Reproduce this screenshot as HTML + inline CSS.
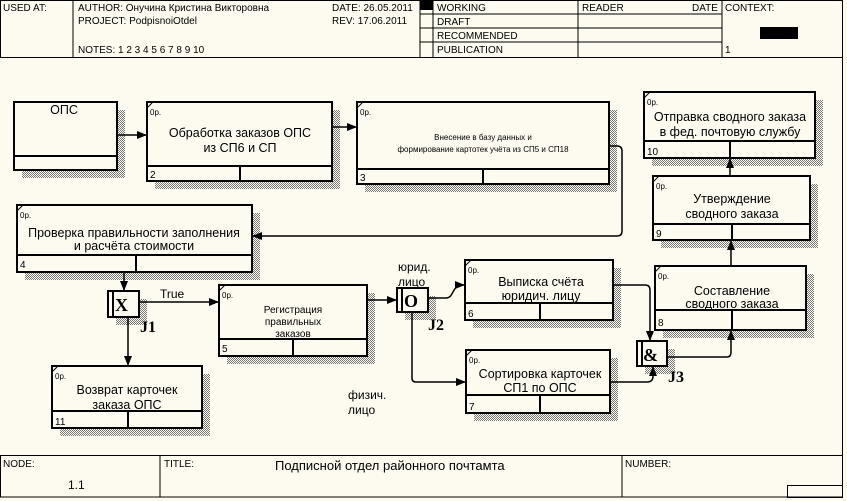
<!DOCTYPE html>
<html><head><meta charset="utf-8"><style>
html,body{margin:0;padding:0;background:#fdfaf0}
svg{display:block}
text{font-family:"Liberation Sans",sans-serif;fill:#000}
text.s{font-family:"Liberation Serif",serif;font-weight:bold}
</style></head><body>
<svg width="847" height="501" viewBox="0 0 847 501" xmlns="http://www.w3.org/2000/svg">
<defs>
<pattern id="h" width="2" height="2" patternUnits="userSpaceOnUse"><rect width="2" height="2" fill="#fdfaf0"/><rect width="1" height="1" fill="#777"/><rect x="1" y="1" width="1" height="1" fill="#777"/></pattern>
<marker id="a" markerWidth="10" markerHeight="8" refX="9" refY="4" orient="auto" markerUnits="userSpaceOnUse"><path d="M0,0 L10,4 L0,8z" fill="#000"/></marker>
</defs>
<rect x="0" y="0" width="847" height="501" fill="#fdfaf0"/>
<g stroke="#000" stroke-width="1" fill="none">
<rect x="0.5" y="0.5" width="842" height="57"/>
<line x1="73" y1="0" x2="73" y2="57"/>
<line x1="420" y1="0" x2="420" y2="57"/>
<line x1="433" y1="0" x2="433" y2="57"/>
<line x1="578" y1="0" x2="578" y2="57"/>
<line x1="722" y1="0" x2="722" y2="57"/>
<line x1="420" y1="14" x2="722" y2="14"/>
<line x1="420" y1="28" x2="722" y2="28"/>
<line x1="420" y1="42" x2="722" y2="42"/>
<line x1="842.5" y1="57" x2="842.5" y2="455"/>
<rect x="0.5" y="455.5" width="842" height="41.5"/>
<line x1="160" y1="455" x2="160" y2="497"/>
<line x1="622" y1="455" x2="622" y2="497"/>
<rect x="787.5" y="485.5" width="55" height="12"/>
</g>
<rect x="420" y="0" width="13" height="10" fill="#000"/>
<rect x="760" y="27" width="38" height="12" fill="#000"/>
<g font-size="10">
<text x="3" y="11">USED AT:</text>
<text x="78" y="11">AUTHOR:  Онучина Кристина Викторовна</text>
<text x="78" y="24">PROJECT:  PodpisnoiOtdel</text>
<text x="78" y="53">NOTES:  1  2  3  4  5  6  7  8  9  10</text>
<text x="332" y="11">DATE:  26.05.2011</text>
<text x="332" y="24">REV:    17.06.2011</text>
<text x="437" y="11">WORKING</text>
<text x="437" y="25">DRAFT</text>
<text x="437" y="39">RECOMMENDED</text>
<text x="437" y="53">PUBLICATION</text>
<text x="582" y="11">READER</text>
<text x="692" y="11">DATE</text>
<text x="725" y="11">CONTEXT:</text>
<text x="725" y="53">1</text>
<text x="3" y="467">NODE:</text>
<text x="164" y="467">TITLE:</text>
<text x="625" y="467">NUMBER:</text>
</g>
<text x="68" y="489" font-size="12">1.1</text>
<text x="275" y="470" font-size="13">Подписной отдел районного почтамта</text>

<g fill="url(#h)">
<rect x="22" y="110" width="103" height="68"/>
<rect x="155" y="110" width="185" height="79"/>
<rect x="365" y="110" width="252" height="82"/>
<rect x="25" y="213" width="235" height="67"/>
<rect x="652" y="100" width="171" height="66"/>
<rect x="661" y="184" width="157" height="64"/>
<rect x="663" y="274" width="151" height="64"/>
<rect x="473" y="268" width="148" height="60"/>
<rect x="474" y="358" width="144" height="63"/>
<rect x="227" y="293" width="148" height="71"/>
<rect x="60" y="374" width="150" height="62"/>
<rect x="116" y="299" width="31" height="26"/>
<rect x="405" y="296" width="31" height="24"/>
<rect x="645" y="349" width="30" height="25"/>
</g>

<g stroke="#000" stroke-width="2" fill="#fdfaf0">
<rect x="14" y="102" width="103" height="68"/>
<rect x="147" y="102" width="185" height="79"/>
<rect x="357" y="102" width="252" height="82"/>
<rect x="17" y="205" width="235" height="67"/>
<rect x="644" y="92" width="171" height="66"/>
<rect x="653" y="176" width="157" height="64"/>
<rect x="655" y="266" width="151" height="64"/>
<rect x="465" y="260" width="148" height="60"/>
<rect x="466" y="350" width="144" height="63"/>
<rect x="219" y="285" width="148" height="71"/>
<rect x="52" y="366" width="150" height="62"/>
<rect x="108" y="291" width="31" height="26"/>
<rect x="397" y="288" width="31" height="24"/>
<rect x="637" y="341" width="30" height="25"/>
</g>
<g stroke="#000" stroke-width="2">
<line x1="14" y1="156" x2="117" y2="156"/>
<line x1="147" y1="166" x2="332" y2="166"/><line x1="240" y1="166" x2="240" y2="181"/>
<line x1="357" y1="169" x2="609" y2="169"/><line x1="483" y1="169" x2="483" y2="184"/>
<line x1="17" y1="255" x2="252" y2="255"/><line x1="136" y1="255" x2="136" y2="272"/>
<line x1="644" y1="141" x2="815" y2="141"/><line x1="730" y1="141" x2="730" y2="158"/>
<line x1="653" y1="224" x2="810" y2="224"/><line x1="732" y1="224" x2="732" y2="240"/>
<line x1="655" y1="310" x2="806" y2="310"/><line x1="732" y1="310" x2="732" y2="330"/>
<line x1="465" y1="303" x2="613" y2="303"/><line x1="540" y1="303" x2="540" y2="320"/>
<line x1="466" y1="395" x2="610" y2="395"/><line x1="540" y1="395" x2="540" y2="413"/>
<line x1="219" y1="339" x2="367" y2="339"/><line x1="293" y1="339" x2="293" y2="356"/>
<line x1="52" y1="411" x2="202" y2="411"/><line x1="128" y1="411" x2="128" y2="428"/>
<line x1="113" y1="291" x2="113" y2="317"/>
<line x1="402" y1="288" x2="402" y2="312"/>
<line x1="642" y1="341" x2="642" y2="366"/>
</g>
<g stroke="#000" stroke-width="1">
<line x1="147" y1="108" x2="153" y2="102"/><line x1="357" y1="108" x2="363" y2="102"/>
<line x1="17" y1="211" x2="23" y2="205"/><line x1="644" y1="98" x2="650" y2="92"/>
<line x1="653" y1="182" x2="659" y2="176"/><line x1="655" y1="272" x2="661" y2="266"/>
<line x1="465" y1="266" x2="471" y2="260"/><line x1="466" y1="356" x2="472" y2="350"/>
<line x1="219" y1="291" x2="225" y2="285"/><line x1="52" y1="372" x2="58" y2="366"/>
</g>
<g font-size="8">
<text x="150" y="115">0р.</text><text x="360" y="115">0р.</text><text x="20" y="218">0р.</text>
<text x="647" y="105">0р.</text><text x="656" y="189">0р.</text><text x="658" y="279">0р.</text>
<text x="468" y="273">0р.</text><text x="469" y="363">0р.</text><text x="222" y="298">0р.</text><text x="55" y="379">0р.</text>
</g>
<g font-size="10">
<text x="150" y="178">2</text><text x="360" y="181">3</text><text x="20" y="268">4</text>
<text x="647" y="155">10</text><text x="656" y="237">9</text><text x="658" y="326">8</text>
<text x="468" y="317">6</text><text x="469" y="410">7</text><text x="222" y="352">5</text><text x="55" y="425">11</text>
</g>
<g font-size="12.5" text-anchor="middle">
<text x="64" y="114">ОПС</text>
<text x="240" y="137">Обработка заказов ОПС</text><text x="240" y="152">из СП6 и СП</text>
<text x="134" y="237">Проверка правильности заполнения</text><text x="134" y="250">и расчёта стоимости</text>
<text x="730" y="121">Отправка сводного заказа</text><text x="730" y="136">в фед. почтовую службу</text>
<text x="732" y="203">Утверждение</text><text x="732" y="218">сводного заказа</text>
<text x="732" y="295">Составление</text><text x="732" y="308">сводного заказа</text>
<text x="541" y="286">Выписка счёта</text><text x="541" y="300">юридич. лицу</text>
<text x="540" y="378">Сортировка карточек</text><text x="540" y="392">СП1 по ОПС</text>
<text x="127" y="394">Возврат карточек</text><text x="127" y="409">заказа ОПС</text>
</g>
<g font-size="8" text-anchor="middle">
<text x="483" y="140">Внесение в базу данных и</text>
<text x="483" y="152">формирование картотек учёта из СП5 и СП18</text>
</g>
<g font-size="10" text-anchor="middle">
<text x="293" y="313">Регистрация</text><text x="293" y="325">правильных</text><text x="293" y="337">заказов</text>
</g>
<text class="s" x="115" y="311" font-size="18">X</text>
<text class="s" x="404" y="307" font-size="18">O</text>
<text class="s" x="643" y="361" font-size="18">&amp;</text>
<text class="s" x="140" y="332" font-size="16">J1</text>
<text class="s" x="428" y="330" font-size="16">J2</text>
<text class="s" x="668" y="382" font-size="16">J3</text>
<g font-size="12">
<text x="160" y="298">True</text>
<text x="398" y="271">юрид.</text><text x="398" y="286">лицо</text>
<text x="348" y="399">физич.</text><text x="348" y="414">лицо</text>
</g>
<g stroke="#000" stroke-width="1.5" fill="none" marker-end="url(#a)">
<line x1="117" y1="135" x2="146" y2="135"/>
<line x1="332" y1="127" x2="356" y2="127"/>
<path d="M609,146 H617 Q622,146 622,151 V231 Q622,236 617,236 H253"/>
<line x1="124" y1="272" x2="124" y2="290"/>
<line x1="139" y1="302" x2="218" y2="302"/>
<line x1="128" y1="317" x2="128" y2="365"/>
<line x1="367" y1="300" x2="396" y2="300"/>
<path d="M428,298 H446 C454,298 452,285 462,285 H464"/>
<path d="M412,312 V378 Q412,382 416,382 H465"/>
<path d="M613,285 H645 Q650,285 650,290 V340"/>
<path d="M610,382 H647 Q653,382 653,376 V367"/>
<path d="M667,357 H727 Q731,357 731,352 V331"/>
<line x1="731" y1="266" x2="731" y2="241"/>
<line x1="730" y1="176" x2="730" y2="159"/>
</g>
</svg>
</body></html>
